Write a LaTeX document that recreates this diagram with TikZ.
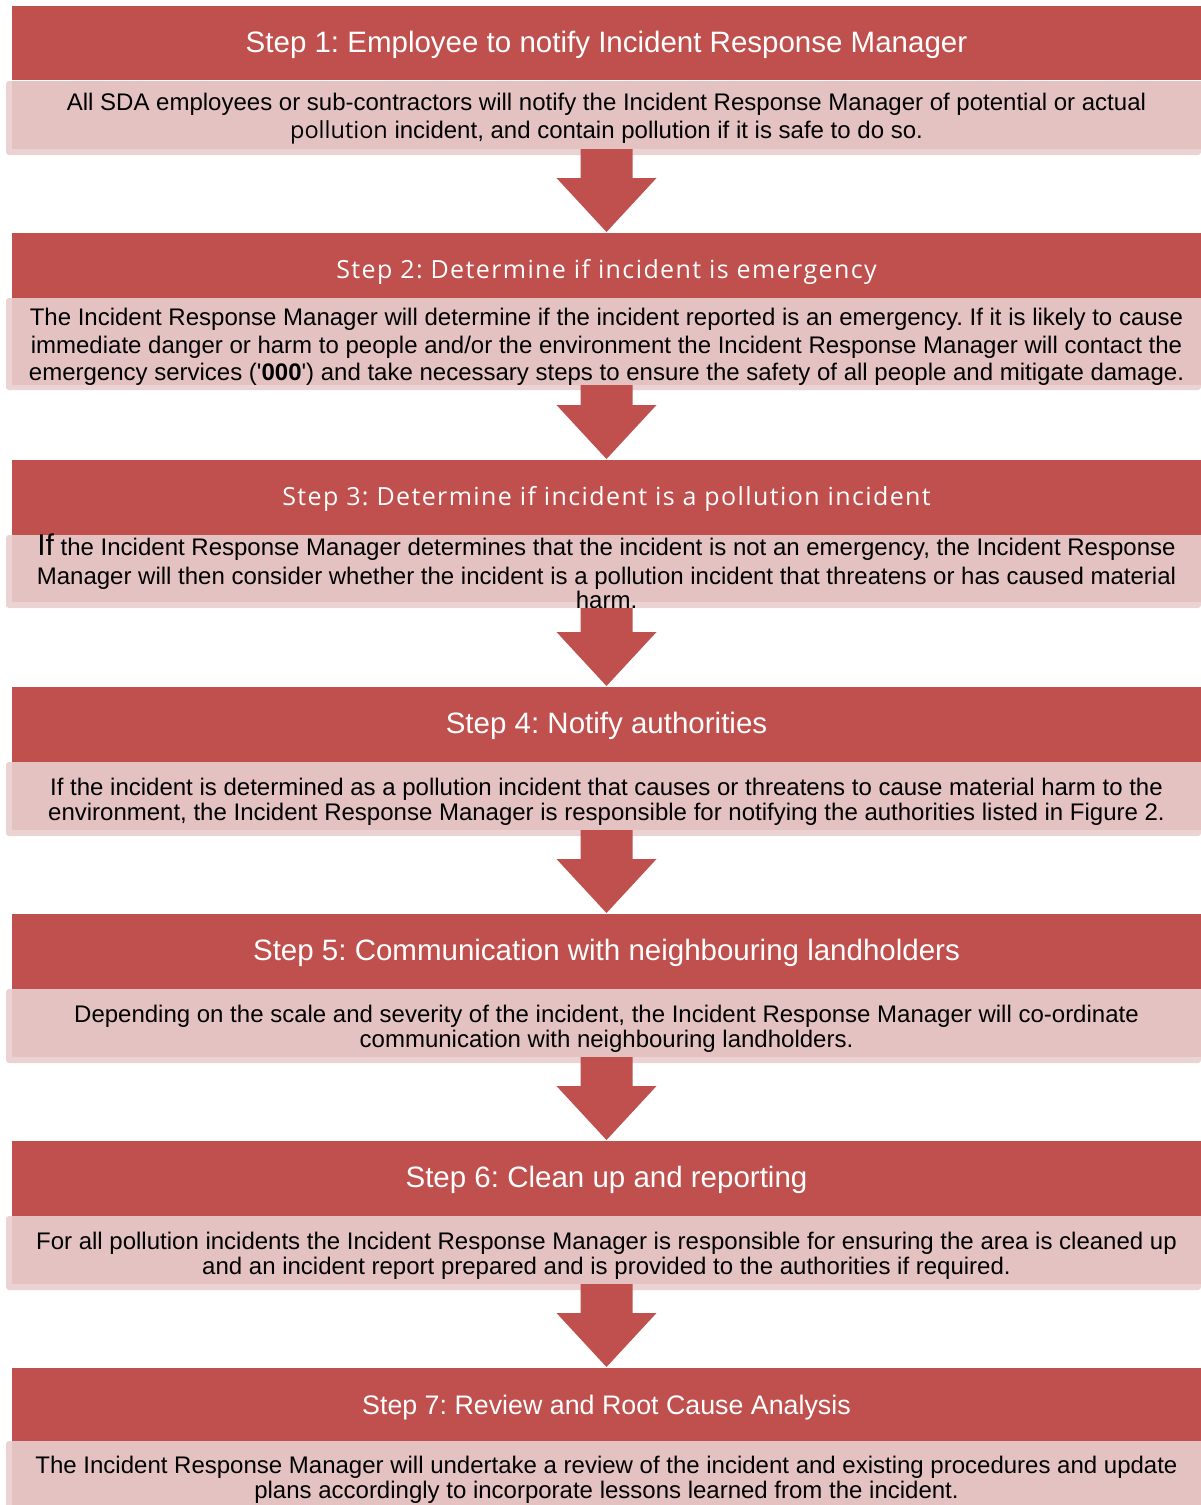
\documentclass[tikz,border=0pt]{standalone}
\usepackage{fontspec}
\setmainfont{Liberation Sans}
\newfontfamily\hdrfont[LetterSpace=5.6]{Open Sans}
\newfontfamily\pollfont{Open Sans}
\definecolor{hdrred}{HTML}{C0504D}
\definecolor{pinkin}{HTML}{E4C2C2}
\definecolor{pinkout}{HTML}{EBD3D3}
\frenchspacing
\tikzset{
  hdrbox/.style={fill=hdrred, inner sep=0pt, outer sep=0pt, anchor=north west, minimum width=1189pt},
  bodybox/.style={fill=pinkin, inner sep=0pt, outer sep=0pt, anchor=north west, minimum width=1189pt},
  band/.style={fill=pinkout, rounded corners=3pt},
  hdrtxt/.style={text=white, font=\fontsize{29.5}{34}\selectfont, anchor=base, inner sep=0pt},
  hdrtxtb/.style={text=white, font=\hdrfont\fontsize{25}{30}\selectfont, anchor=base, inner sep=0pt},
  bodytxt/.style={text=black, font=\fontsize{24}{28}\selectfont, anchor=base, inner sep=0pt},
  arr/.style={fill=hdrred}
}
\begin{document}
\begin{tikzpicture}[x=1pt,y=-1pt]
\useasboundingbox[fill=white] (0,0) rectangle (1201,1505);
% Step 1
\fill[band] (6,81) rectangle (1201,155);
\node[hdrbox, minimum height=74pt] (h1) at (12,6) {};
\node[bodybox, minimum height=68pt] (b1) at (12,81) {};
\node[hdrtxt] (s1) at (606.5,52) {Step 1: Employee to notify Incident Response Manager};
\node[bodytxt] (t1a) at (606.5,110) {All SDA employees or sub-contractors will notify the Incident Response Manager of potential or actual};
\node[bodytxt] (t1b) at (606.5,138) {{\pollfont\fontsize{23.5}{28}\selectfont pollution} incident, and contain pollution if it is safe to do so.};
% Step 2
\fill[band] (6,298) rectangle (1201,390);
\node[hdrbox, minimum height=65pt] (h2) at (12,233) {};
\node[bodybox, minimum height=87pt] (b2) at (12,298) {};
\node[hdrtxtb] (s2) at (606.5,278) {Step 2: Determine if incident is emergency};
\node[bodytxt] (t2a) at (606.5,325) {The Incident Response Manager will determine if the incident reported is an emergency. If it is likely to cause};
\node[bodytxt] (t2b) at (606.5,353) {immediate danger or harm to people and/or the environment the Incident Response Manager will contact the};
\node[bodytxt] (t2c) at (606.5,380) {emergency services (\textquotesingle\textbf{000}\textquotesingle) and take necessary steps to ensure the safety of all people and mitigate damage.};
% Step 3
\fill[band] (6,535) rectangle (1201,608);
\node[hdrbox, minimum height=75pt] (h3) at (12,460) {};
\node[bodybox, minimum height=67pt] (b3) at (12,535) {};
\node[hdrtxtb] (s3) at (606.5,505) {Step 3: Determine if incident is a pollution incident};
\node[bodytxt] (t3a) at (606.5,555) {{\fontsize{30}{34}\selectfont If} the Incident Response Manager determines that the incident is not an emergency, the Incident Response};
\node[bodytxt] (t3b) at (606.5,584) {Manager will then consider whether the incident is a pollution incident that threatens or has caused material};
\node[bodytxt] (t3c) at (606.5,608) {harm.};
% Step 4
\fill[band] (6,762) rectangle (1201,836);
\node[hdrbox, minimum height=75pt] (h4) at (12,687) {};
\node[bodybox, minimum height=68pt] (b4) at (12,762) {};
\node[hdrtxt] (s4) at (606.5,733) {Step 4: Notify authorities};
\node[bodytxt] (t4a) at (606.5,795) {If the incident is determined as a pollution incident that causes or threatens to cause material harm to the};
\node[bodytxt] (t4b) at (606.5,820) {environment, the Incident Response Manager is responsible for notifying the authorities listed in Figure 2.};
% Step 5
\fill[band] (6,989) rectangle (1201,1063);
\node[hdrbox, minimum height=75pt] (h5) at (12,914) {};
\node[bodybox, minimum height=68pt] (b5) at (12,989) {};
\node[hdrtxt] (s5) at (606.5,960) {Step 5: Communication with neighbouring landholders};
\node[bodytxt] (t5a) at (606.5,1022) {Depending on the scale and severity of the incident, the Incident Response Manager will co-ordinate};
\node[bodytxt] (t5b) at (606.5,1047) {communication with neighbouring landholders.};
% Step 6
\fill[band] (6,1216) rectangle (1201,1290);
\node[hdrbox, minimum height=75pt] (h6) at (12,1141) {};
\node[bodybox, minimum height=68pt] (b6) at (12,1216) {};
\node[hdrtxt] (s6) at (606.5,1187) {Step 6: Clean up and reporting};
\node[bodytxt] (t6a) at (606.5,1249) {For all pollution incidents the Incident Response Manager is responsible for ensuring the area is cleaned up};
\node[bodytxt] (t6b) at (606.5,1274) {and an incident report prepared and is provided to the authorities if required.};
% Step 7
\fill[band] (6,1441) rectangle (1201,1515);
\node[hdrbox, minimum height=73pt] (h7) at (12,1368) {};
\node[bodybox, minimum height=68pt] (b7) at (12,1441) {};
\node[hdrtxt, font=\fontsize{26.8}{31}\selectfont] (s7) at (606.5,1414) {Step 7: Review and Root Cause Analysis};
\node[bodytxt] (t7a) at (606.5,1473) {The Incident Response Manager will undertake a review of the incident and existing procedures and update};
\node[bodytxt] (t7b) at (606.5,1498) {plans accordingly to incorporate lessons learned from the incident.};
% Arrows
\foreach \a/\b/\off in {b1/h2/0, b2/h3/0, b3/h4/6, b4/h5/0, b5/h6/0, b6/h7/0}{
  \fill[arr] ([xshift=-26pt,yshift=-\off pt]\a.south) -- ([xshift=-26pt,yshift=55pt]\b.north)
    -- ([xshift=-50pt,yshift=55pt]\b.north) -- ([yshift=1pt]\b.north)
    -- ([xshift=50pt,yshift=55pt]\b.north) -- ([xshift=26pt,yshift=55pt]\b.north)
    -- ([xshift=26pt,yshift=-\off pt]\a.south) -- cycle;
}
\end{tikzpicture}
\end{document}
